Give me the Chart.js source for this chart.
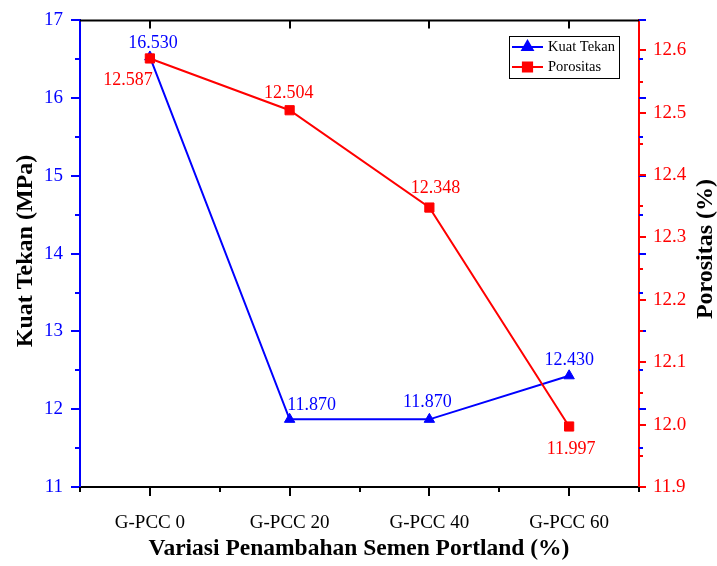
<!DOCTYPE html>
<html>
<head>
<meta charset="utf-8">
<script src="https://cdn.jsdelivr.net/npm/chart.js@4.4.1/dist/chart.umd.min.js"></script>
<style>
  html, body { margin: 0; padding: 0; background: #fff; }
  #wrap { width: 717px; height: 566px; }
</style>
</head>
<body>
<div id="wrap"><canvas id="myChart" width="717" height="566"></canvas></div>
<script>
// categories along the x-axis
var variasi = ['G-PCC 0', 'G-PCC 20', 'G-PCC 40', 'G-PCC 60'];
// series values
var kuatTekan = [16.530, 11.870, 11.870, 12.430];
var porositas = [12.587, 12.504, 12.348, 11.997];
// axis ranges
var kuatMin = 11, kuatMax = 17;
var poroMin = 11.9, poroMax = 12.648;

// where each value label sits relative to its point (px)
var kuatLabelShift = [[3, -14], [22, -14], [-2, -17], [0, -16]];
var poroLabelShift = [[-22, 22], [-1, -17], [6, -19], [2, 23]];

var serif = "'Liberation Serif', 'Times New Roman', serif";
var BLUE = '#0000ff', RED = '#ff0000';

// extra drawing: ticks, frame, value labels, legend, axis titles
var decor = {
  id: 'decor',
  afterDatasetsDraw: function (chart) {
    var ctx = chart.ctx;
    ctx.save();
    ctx.font = '18px ' + serif;
    ctx.textAlign = 'center';
    ctx.textBaseline = 'middle';
    [[0, kuatTekan, kuatLabelShift, BLUE], [1, porositas, poroLabelShift, RED]].forEach(function (s) {
      var meta = chart.getDatasetMeta(s[0]);
      meta.data.forEach(function (pt, i) {
        ctx.fillStyle = s[3];
        ctx.fillText(s[1][i].toFixed(3), pt.x + s[2][i][0], pt.y + s[2][i][1]);
      });
    });
    ctx.restore();
  },
  afterDraw: function (chart) {
    var ctx = chart.ctx, a = chart.chartArea;
    var y = chart.scales.y, y1 = chart.scales.y1, x = chart.scales.x;
    ctx.save();
    ctx.lineWidth = 2;

    // top frame
    ctx.strokeStyle = '#000';
    ctx.beginPath(); ctx.moveTo(a.left, a.top); ctx.lineTo(a.right, a.top); ctx.stroke();

    function tick(x0, y0, x1, y1c, col) {
      ctx.strokeStyle = col;
      ctx.beginPath(); ctx.moveTo(x0, y0); ctx.lineTo(x1, y1c); ctx.stroke();
    }
    // left axis ticks
    for (var v = kuatMin; v <= kuatMax + 1e-9; v += 0.5) {
      var py = Math.round(y.getPixelForValue(v));
      var major = Math.abs(v - Math.round(v)) < 1e-6;
      tick(a.left, py, a.left - (major ? 9 : 5), py, BLUE);
      // mirrored on right side
      tick(a.right, py, a.right + (major ? 7 : 4), py, BLUE);
    }
    // right axis ticks
    for (var k = 0; k <= 14; k++) {
      var w = poroMin + k * 0.05;
      var qy = Math.round(y1.getPixelForValue(w));
      tick(a.right, qy, a.right + (k % 2 === 0 ? 7 : 4), qy, RED);
    }
    // bottom / top ticks
    var step = (a.right - a.left) / variasi.length;
    for (var c = 0; c <= variasi.length; c++) {
      var bx = Math.round(a.left + c * step);
      tick(bx, a.bottom, bx, a.bottom + 5, '#000');
    }
    for (var c2 = 0; c2 < variasi.length; c2++) {
      var cx = Math.round(x.getPixelForValue(c2));
      tick(cx, a.bottom, cx, a.bottom + 9, '#000');
      tick(cx, a.top, cx, a.top + 8, '#000');
    }

    // legend
    ctx.lineWidth = 1;
    ctx.strokeStyle = '#000';
    ctx.strokeRect(509.5, 36.5, 110, 42);
    ctx.font = '14.5px ' + serif;
    ctx.textAlign = 'left';
    ctx.textBaseline = 'middle';
    [['Kuat Tekan', BLUE, 'triangle', 47], ['Porositas', RED, 'rect', 67]].forEach(function (e) {
      ctx.lineWidth = 2;
      ctx.strokeStyle = e[1];
      ctx.beginPath(); ctx.moveTo(512, e[3]); ctx.lineTo(543, e[3]); ctx.stroke();
      ctx.fillStyle = e[1];
      Chart.helpers.drawPoint(ctx, { pointStyle: e[2], radius: e[2] === 'rect' ? 6.5 : 6, borderWidth: 1 }, 527.5, e[3]);
      ctx.fillStyle = '#000';
      ctx.fillText(e[0], 548, e[3]);
    });

    // axis titles
    ctx.fillStyle = '#000';
    ctx.textAlign = 'center';
    ctx.textBaseline = 'middle';
    ctx.font = 'bold 23.5px ' + serif;
    ctx.fillText('Variasi Penambahan Semen Portland (%)', 359, 549);
    ctx.font = 'bold 24px ' + serif;
    ctx.save();
    ctx.translate(26, 251);
    ctx.rotate(-Math.PI / 2);
    ctx.fillText('Kuat Tekan (MPa)', 0, 0);
    ctx.restore();
    ctx.save();
    ctx.translate(706, 249);
    ctx.rotate(-Math.PI / 2);
    ctx.fillText('Porositas (%)', 0, 0);
    ctx.restore();
    ctx.restore();
  }
};

var ctx = document.getElementById('myChart');
var myChart = new Chart(ctx, {
  type: 'line',
  data: {
    labels: variasi,
    datasets: [
      {
        label: 'Kuat Tekan',
        data: kuatTekan,
        yAxisID: 'y',
        order: 2,
        borderColor: BLUE,
        backgroundColor: BLUE,
        borderWidth: 2,
        pointStyle: 'triangle',
        pointRadius: 6,
        pointBorderWidth: 1,
        fill: false
      },
      {
        label: 'Porositas',
        data: porositas,
        yAxisID: 'y1',
        order: 1,
        borderColor: RED,
        backgroundColor: RED,
        borderWidth: 2,
        pointStyle: 'rect',
        pointRadius: 6.5,
        pointBorderWidth: 1,
        fill: false
      }
    ]
  },
  options: {
    responsive: false,
    animation: false,
    layout: { padding: { top: 7, left: 0, right: 0, bottom: 0 } },
    plugins: { legend: { display: false }, tooltip: { enabled: false } },
    scales: {
      x: {
        offset: true,
        grid: { display: false },
        border: { display: true, color: '#000', width: 2 },
        ticks: { color: '#000', font: { family: serif, size: 19 }, padding: 17, maxRotation: 0 },
        afterFit: function (s) { s.height = 79; }
      },
      y: {
        position: 'left',
        min: kuatMin,
        max: kuatMax,
        grid: { display: false },
        border: { display: true, color: BLUE, width: 2 },
        ticks: { stepSize: 1, color: BLUE, font: { family: serif, size: 19 }, padding: 9 },
        afterFit: function (s) { s.width = 80; }
      },
      y1: {
        position: 'right',
        min: poroMin,
        max: poroMax,
        grid: { display: false },
        border: { display: true, color: RED, width: 2 },
        ticks: {
          stepSize: 0.1, includeBounds: false, color: RED,
          font: { family: serif, size: 19 }, padding: 6,
          callback: function (v) { return v.toFixed(1); }
        },
        afterFit: function (s) { s.width = 78; }
      }
    }
  },
  plugins: [decor]
});
</script>
</body>
</html>
